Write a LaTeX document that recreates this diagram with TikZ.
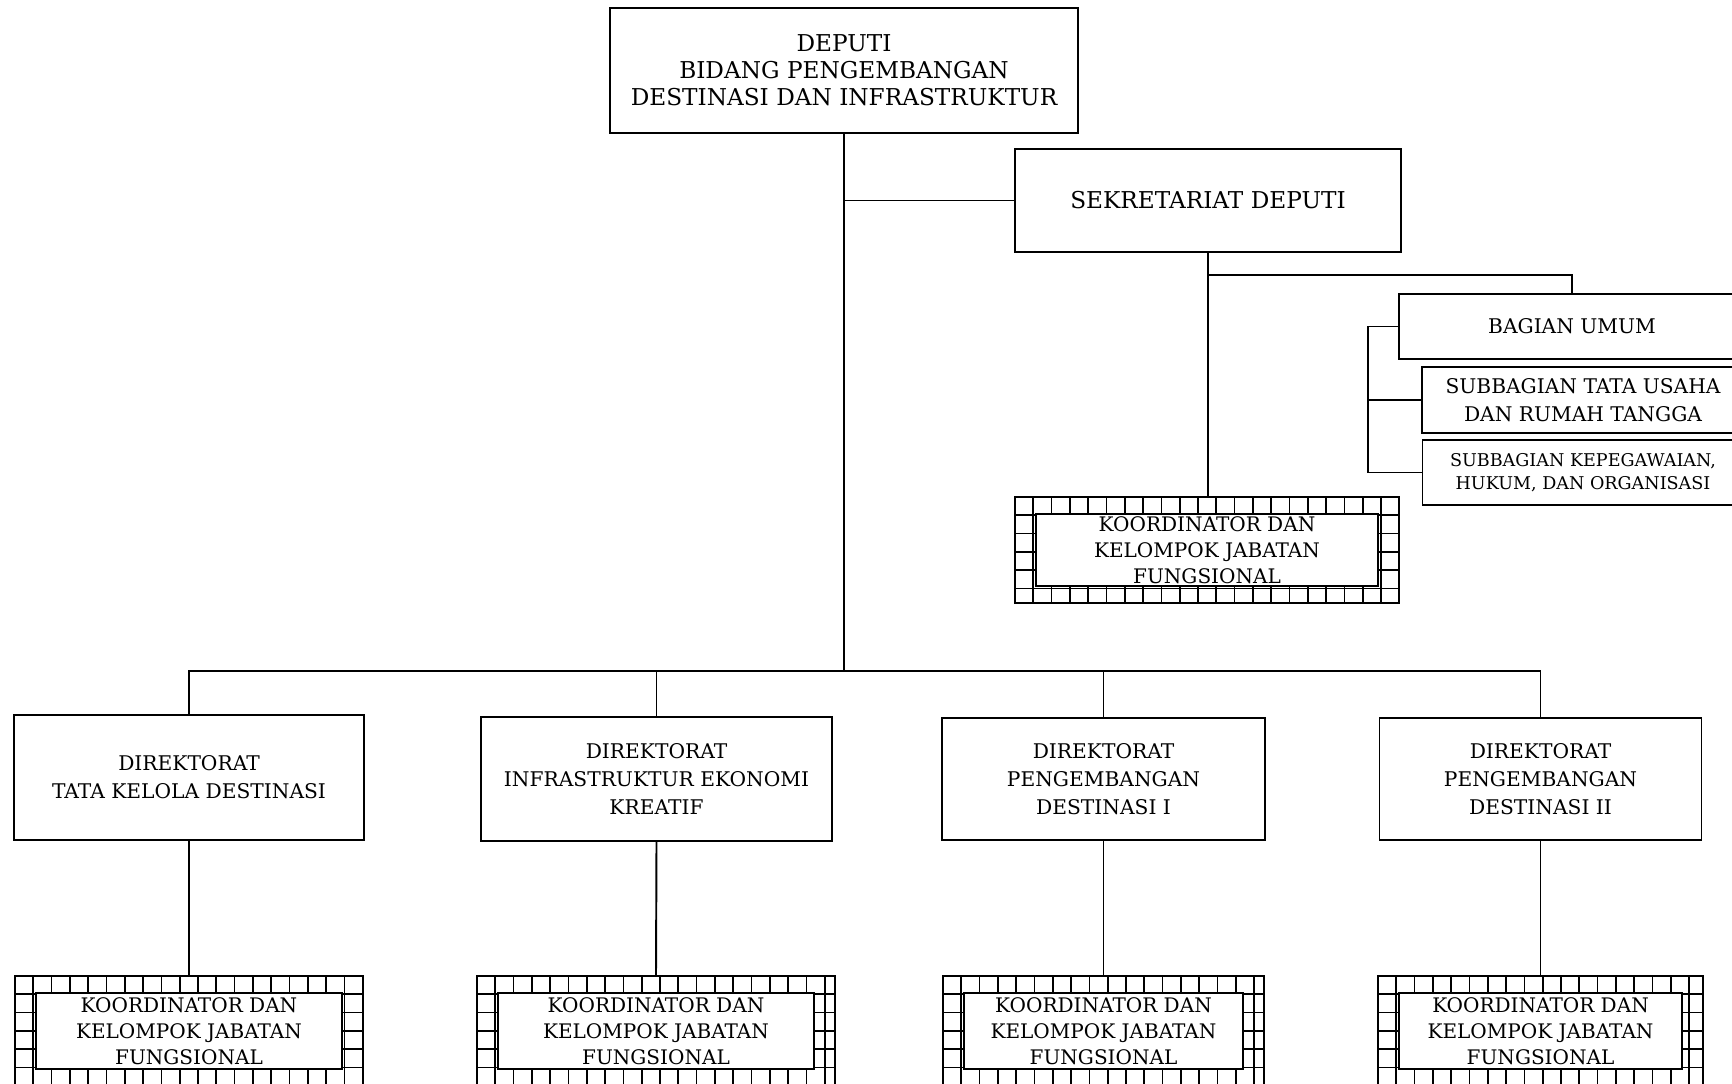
\documentclass[tikz,border=0pt]{standalone}
\usepackage{fontspec}
\setmainfont{DejaVu Serif}
\usetikzlibrary{positioning}

\tikzset{
  orgbox/.style 2 args={draw, line width=1.1pt, align=center, inner sep=0pt,
    minimum width=#1cm, minimum height=#2cm,
    font=\fontsize{11.5}{15.8}\selectfont},
  headbox/.style 2 args={orgbox={#1}{#2}, font=\fontsize{13.2}{15.4}\selectfont},
  smallbox/.style 2 args={orgbox={#1}{#2}, font=\fontsize{10}{13}\selectfont},
  kjfbox/.style={orgbox={#1}{2.2}, font=\fontsize{11.4}{14.7}\selectfont,
    path picture={
      % brick border
      \foreach \i in {0,...,24}
        \draw[line width=1pt] ([xshift=\i*0.366cm]path picture bounding box.north west) -- ++(0,-3);
      \foreach \j in {0,...,7}
        \draw[line width=1pt] ([yshift=-\j*0.366cm]path picture bounding box.north west) -- ++(9,0);
      \filldraw[fill=white, line width=1.1pt]
        ([shift={(0.42,-0.34)}]path picture bounding box.north west) rectangle
        ([shift={(-0.42,0.34)}]path picture bounding box.south east);
    }},
  link/.style={line width=1.1pt},
}

\begin{document}
\begin{tikzpicture}
  \useasboundingbox (0,0) rectangle (34.64,-21.68);

  % Deputi and sekretariat
  \node[headbox={9.36}{2.5}] (dep) at (16.88,-1.41)
    {DEPUTI\\BIDANG PENGEMBANGAN\\DESTINASI DAN INFRASTRUKTUR};
  \node[headbox={7.72}{2.06}] (sek) at (24.16,-4.01) {SEKRETARIAT DEPUTI};

  % Bagian umum and its subbagian
  \node[orgbox={6.92}{1.3}] (bu) at (31.44,-6.53) {BAGIAN UMUM};
  \node[orgbox={6.44}{1.32}] (sbtu) at (31.66,-8.0) {SUBBAGIAN TATA USAHA\\DAN RUMAH TANGGA};
  \node[smallbox={6.42}{1.3}] (sbkp) at (31.66,-9.45) {SUBBAGIAN KEPEGAWAIAN,\\HUKUM, DAN ORGANISASI};

  % Koordinator under the sekretariat
  \node[kjfbox=7.68, minimum height=2.12cm] (ksek) at (24.14,-11.0)
    {KOORDINATOR DAN\\KELOMPOK JABATAN\\FUNGSIONAL};

  % Direktorat
  \node[orgbox={7.0}{2.5}] (d1) at (3.78,-15.55) {DIREKTORAT\\TATA KELOLA DESTINASI};
  \node[orgbox={7.02}{2.48}] (d2) at (13.13,-15.58) {DIREKTORAT\\INFRASTRUKTUR EKONOMI\\KREATIF};
  \node[orgbox={6.46}{2.44}] (d3) at (22.07,-15.58) {DIREKTORAT\\PENGEMBANGAN\\DESTINASI I};
  \node[orgbox={6.44}{2.44}] (d4) at (30.81,-15.58) {DIREKTORAT\\PENGEMBANGAN\\DESTINASI II};

  % Koordinator under each direktorat
  \node[kjfbox=6.96] (k1) at (3.78,-20.62) {KOORDINATOR DAN\\KELOMPOK JABATAN\\FUNGSIONAL};
  \node[kjfbox=7.16] (k2) at (13.12,-20.62) {KOORDINATOR DAN\\KELOMPOK JABATAN\\FUNGSIONAL};
  \node[kjfbox=6.42] (k3) at (22.07,-20.62) {KOORDINATOR DAN\\KELOMPOK JABATAN\\FUNGSIONAL};
  \node[kjfbox=6.5] (k4) at (30.81,-20.62) {KOORDINATOR DAN\\KELOMPOK JABATAN\\FUNGSIONAL};

  % Connectors
  \coordinate (bus) at (16.9,-13.42);
  \draw[link] (dep.south) -- (dep.south |- bus);
  \draw[link] (sek.west) -- (sek.west -| dep.south);
  \draw[link] (sek.south) -- ++(0,-0.44) -| (bu.north);
  \draw[link] (sek.south) -- (sek.south |- ksek.north);
  \coordinate (br) at ([xshift=-0.6cm]bu.west);
  \draw[link] (bu.west) -- (br) |- (sbkp.west);
  \draw[link] (br |- sbtu.west) -- (sbtu.west);
  \draw[link] (d1.north) |- (d4.north |- bus) -- (d4.north);
  \foreach \d in {d2,d3}
    \draw[link] (\d.north) -- (\d.north |- bus);
  \foreach \d/\k in {d1/k1,d2/k2,d3/k3,d4/k4}
    \draw[link] (\d.south) -- (\k.north);
\end{tikzpicture}
\end{document}
